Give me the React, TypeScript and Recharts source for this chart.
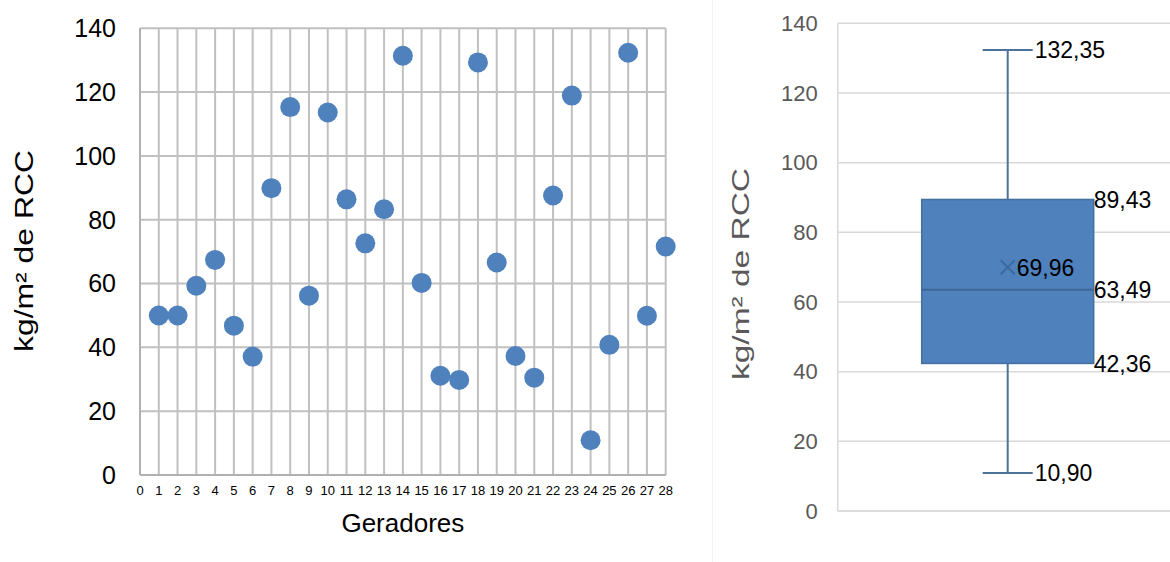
import React from 'react';
import { ScatterChart, Scatter, XAxis, YAxis, CartesianGrid, ComposedChart, Bar } from 'recharts';

const FONT = '"Liberation Sans", Arial, Helvetica, sans-serif';

// ---- Left chart: kg/m² de RCC per gerador ----
const geradores = [1, 2, 3, 4, 5, 6, 7, 8, 9, 10, 11, 12, 13, 14, 15, 16, 17, 18, 19, 20, 21, 22, 23, 24, 25, 26, 27, 28];
const consumoRCC = [50.0, 50.0, 59.3, 67.4, 46.8, 37.1, 89.9, 115.3, 56.2, 113.6, 86.4, 72.6, 83.3, 131.4, 60.2, 31.1, 29.8, 129.3, 66.6, 37.3, 30.5, 87.6, 118.9, 10.9, 40.8, 132.35, 49.9, 71.6];
const xTicks = [0, 1, 2, 3, 4, 5, 6, 7, 8, 9, 10, 11, 12, 13, 14, 15, 16, 17, 18, 19, 20, 21, 22, 23, 24, 25, 26, 27, 28];
const yTicks = [0, 20, 40, 60, 80, 100, 120, 140];

// ---- Right chart: box plot ----
const boxCategories = ['RCC'];
const boxMin = [10.9];
const boxQ1 = [42.36];
const boxMedian = [63.49];
const boxQ3 = [89.43];
const boxMax = [132.35];
const boxMean = [69.96];

const scatterData = geradores.map((g, i) => ({ x: g, y: consumoRCC[i] }));
const boxData = boxCategories.map((name, i) => ({
  name,
  range: [boxMin[i], boxMax[i]],
  min: boxMin[i],
  q1: boxQ1[i],
  median: boxMedian[i],
  q3: boxQ3[i],
  max: boxMax[i],
  mean: boxMean[i],
}));

const fmt = (v: number) => v.toFixed(2).replace('.', ',');

const Dot = (props: any) => {
  const { cx, cy } = props;
  return <circle cx={cx} cy={cy} r={10} fill="#4f81bd" />;
};

const BoxShape = (props: any) => {
  const { x, y, width, height } = props;
  const d = props.payload ?? props;
  const top = Math.min(y, y + height);
  const bottom = Math.max(y, y + height);
  const { min, q1, median, q3, max, mean } = d;
  const py = (v: number) => bottom - ((v - min) / (max - min)) * (bottom - top);
  const cx = x + width / 2;
  const cap = 25;
  const wc = '#4d7199';
  const lbl = { fontSize: 23, fill: '#000', fontFamily: FONT, dy: '0.36em' } as any;
  const my = py(mean);
  return (
    <g>
      <line x1={cx} x2={cx} y1={py(max)} y2={py(q3)} stroke={wc} strokeWidth={2} />
      <line x1={cx} x2={cx} y1={py(q1)} y2={py(min)} stroke={wc} strokeWidth={2} />
      <line x1={cx - cap} x2={cx + cap} y1={py(max)} y2={py(max)} stroke={wc} strokeWidth={2} />
      <line x1={cx - cap} x2={cx + cap} y1={py(min)} y2={py(min)} stroke={wc} strokeWidth={2} />
      <rect x={x} y={py(q3)} width={width} height={py(q1) - py(q3)} fill="#4f81bd" stroke="#41719c" strokeWidth={1.5} />
      <line x1={x} x2={x + width} y1={py(median)} y2={py(median)} stroke="#3f6796" strokeWidth={2} />
      <line x1={cx - 7} x2={cx + 7} y1={my - 7} y2={my + 7} stroke="#3d69a2" strokeWidth={2} />
      <line x1={cx - 7} x2={cx + 7} y1={my + 7} y2={my - 7} stroke="#3d69a2" strokeWidth={2} />
      <text x={cx + 27} y={py(max)} {...lbl}>{fmt(max)}</text>
      <text x={cx + 27} y={py(min)} {...lbl}>{fmt(min)}</text>
      <text x={x + width} y={py(q3)} {...lbl}>{fmt(q3)}</text>
      <text x={x + width} y={py(median)} {...lbl}>{fmt(median)}</text>
      <text x={x + width} y={py(q1)} {...lbl}>{fmt(q1)}</text>
      <text x={cx + 9} y={my} {...lbl}>{fmt(mean)}</text>
    </g>
  );
};

export default function App() {
  return (
    <div style={{ position: 'absolute', left: 0, top: 0, width: 1170, height: 562, overflow: 'hidden', background: '#fff' }}>
      <div style={{ position: 'absolute', left: 0, top: 0 }}>
        <ScatterChart width={700} height={562} margin={{ top: 28.3, right: 34.3, left: 0, bottom: 0 }}>
          <CartesianGrid stroke="#c0c0c0" strokeWidth={2} />
          <XAxis
            type="number"
            dataKey="x"
            domain={[0, 28]}
            ticks={xTicks}
            interval={0}
            height={87}
            tickSize={0}
            tickMargin={11}
            axisLine={{ stroke: '#b0b0b0', strokeWidth: 2 }}
            tick={{ fontSize: 13, fill: '#000', fontFamily: FONT }}
            label={{
              content: (p: any) => {
                const vb = p.viewBox || {};
                return (
                  <text x={vb.x + vb.width / 2} y={531.5} textAnchor="middle" fontSize={26} fill="#000" fontFamily={FONT}>
                    Geradores
                  </text>
                );
              },
            }}
          />
          <YAxis
            type="number"
            dataKey="y"
            domain={[0, 140]}
            ticks={yTicks}
            interval={0}
            width={140}
            tickSize={0}
            tickMargin={24}
            axisLine={{ stroke: '#b0b0b0', strokeWidth: 2 }}
            tick={{ fontSize: 25, fill: '#000', fontFamily: FONT }}
            label={{
              content: () => (
                <text
                  x={33}
                  y={251}
                  transform="rotate(-90, 33, 251)"
                  textAnchor="middle"
                  fontSize={25}
                  fill="#000"
                  fontFamily={FONT}
                  textLength={202}
                  lengthAdjust="spacingAndGlyphs"
                >
                  kg/m² de RCC
                </text>
              ),
            }}
          />
          <Scatter data={scatterData} shape={Dot} isAnimationActive={false} />
        </ScatterChart>
      </div>
      <div style={{ position: 'absolute', left: 712, top: 0, width: 1, height: 562, background: '#f3f3f3' }} />
      <div style={{ position: 'absolute', left: 700, top: 0 }}>
        <ComposedChart width={480} height={562} data={boxData} margin={{ top: 23.3, right: 2, left: 0, bottom: 0 }}>
          <CartesianGrid stroke="#d9d9d9" strokeWidth={1.5} vertical={false} />
          <XAxis
            type="category"
            dataKey="name"
            height={51}
            tick={false}
            tickLine={false}
            axisLine={{ stroke: '#d9d9d9', strokeWidth: 1.5 }}
          />
          <YAxis
            type="number"
            domain={[0, 140]}
            ticks={yTicks}
            interval={0}
            width={137.7}
            tickSize={0}
            tickMargin={20}
            axisLine={{ stroke: '#d9d9d9', strokeWidth: 1.5 }}
            tick={{ fontSize: 22, fill: '#595959', fontFamily: FONT }}
            label={{
              content: () => (
                <text
                  x={49}
                  y={274}
                  transform="rotate(-90, 49, 274)"
                  textAnchor="middle"
                  fontSize={24}
                  fill="#595959"
                  fontFamily={FONT}
                  textLength={212}
                  lengthAdjust="spacingAndGlyphs"
                >
                  kg/m² de RCC
                </text>
              ),
            }}
          />
          <Bar dataKey="range" barSize={172} shape={BoxShape} isAnimationActive={false} />
        </ComposedChart>
      </div>
    </div>
  );
}
